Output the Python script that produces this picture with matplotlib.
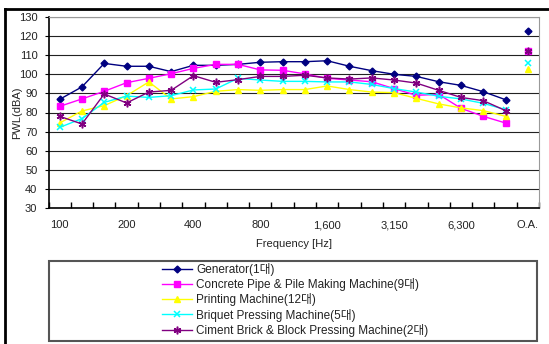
import matplotlib.pyplot as plt
from matplotlib.patches import Rectangle
from matplotlib.lines import Line2D

plt.rcParams['font.family'] = ['Liberation Sans', 'Noto Sans CJK KR']

# 주파수 대역 (1/3 옥타브) + 전체(O.A.)
bands = ['100', '125', '160', '200', '250', '315', '400', '500', '630', '800',
         '1000', '1250', '1600', '2000', '2500', '3150', '4000', '5000',
         '6300', '8000', '10000']
tick_labels = ['100', '200', '400', '800', '1,600', '3,150', '6,300', 'O.A.']

generator = [86.9, 93.4, 105.7, 104.2, 104.2, 101.4, 104.7, 104.7, 105.2, 106.3,
             106.6, 106.6, 107.1, 104.2, 101.9, 100.0, 98.9, 96.1, 94.2, 90.9, 86.7]
generator_oa = 122.7
concrete = [83.2, 87.1, 91.1, 95.6, 97.9, 100.3, 103.1, 105.2, 105.2, 102.3,
            102.1, 100.2, 97.9, 97.0, 96.1, 92.5, 89.0, 89.5, 82.2, 78.0, 74.5]
concrete_oa = 112.0
printing = [74.5, 80.8, 83.6, 88.8, 96.0, 87.1, 88.3, 91.1, 92.0, 91.6,
            92.0, 92.0, 93.9, 92.0, 90.7, 90.4, 87.4, 84.5, 82.4, 81.0, 78.0]
printing_oa = 102.9
briquet = [72.2, 76.8, 85.3, 88.6, 87.9, 88.8, 91.8, 92.3, 97.9, 97.0,
           96.3, 96.3, 96.0, 96.0, 94.7, 92.5, 90.7, 88.5, 87.1, 84.8, 81.5]
briquet_oa = 105.9
ciment = [78.0, 74.0, 89.7, 85.0, 90.7, 91.6, 99.3, 95.8, 97.2, 98.9,
          98.9, 99.5, 98.1, 97.5, 98.1, 97.0, 95.4, 91.6, 87.9, 86.2, 81.0]
ciment_oa = 112.0

names = ['Generator(1대)', 'Concrete Pipe & Pile Making Machine(9대)',
         'Printing Machine(12대)', 'Briquet Pressing Machine(5대)',
         'Ciment Brick & Block Pressing Machine(2대)']

fig = plt.figure(figsize=(5.49, 3.44), dpi=100)
ax = fig.add_axes([48.5/549, 1-208/344, (539-48.5)/549, (208-17)/344])

x = list(range(len(bands)))
x_oa = len(bands)

styles = [
    (generator, generator_oa, '#000080', dict(marker='D', markersize=3.5)),
    (concrete, concrete_oa, '#FF00FF', dict(marker='s', markersize=5)),
    (printing, printing_oa, '#FFFF00', dict(marker='^', markersize=5)),
    (briquet, briquet_oa, '#00FFFF', dict(marker='x', markersize=4.5, markeredgewidth=1.1)),
    (ciment, ciment_oa, '#800080', dict(marker=(6, 2, 0), markersize=5.5, markeredgewidth=1.1)),
]
handles = []
for (vals, oa, col, mk), name in zip(styles, names):
    h, = ax.plot(x, vals, color=col, lw=1, markerfacecolor=col,
                 markeredgecolor=col, label=name, **mk)
    ax.plot([x_oa], [oa], linestyle='none', color=col, markerfacecolor=col,
            markeredgecolor=col, **mk)
    handles.append(h)

ax.set_xlim(-0.5, len(bands) + 0.5)
ax.set_ylim(30, 130)
ax.set_yticks(range(30, 131, 10))
ax.yaxis.grid(True, color='#222222', lw=0.8)
ax.set_axisbelow(True)

ax.set_xticks([0, 3, 6, 9, 12, 15, 18, 21])
ax.set_xticklabels(tick_labels)
ax.set_xticks([i + 0.5 for i in range(-1, len(bands) + 1)], minor=True)
ax.tick_params(axis='x', which='major', length=0, pad=9, labelsize=8, labelcolor='#222222')
ax.tick_params(axis='x', which='minor', direction='in', length=4, width=1, color='black')
ax.tick_params(axis='y', length=3, direction='out', labelsize=8, pad=5, labelcolor='#222222')

for s in ['top', 'right']:
    ax.spines[s].set_color('#999999')
for s in ['left', 'bottom']:
    ax.spines[s].set_color('black')
    ax.spines[s].set_linewidth(1.2)

ax.set_ylabel('PWL(dBA)', fontsize=8, color='#222222')
ax.yaxis.set_label_coords((22.5 - 48.5) / 490.5, 0.5)
ax.set_xlabel('Frequency [Hz]', fontsize=8, labelpad=6, color='#222222')

# 범례 박스
fig.patches.append(Rectangle((49/549, 1-341/344), (537-49)/549, (341-261)/344,
                             transform=fig.transFigure, fill=False,
                             edgecolor='#555555', lw=1.5))
fig.legend(handles=handles, loc='center', bbox_to_anchor=(295/549, 1-300/344),
           frameon=False, fontsize=8.5, handlelength=2.6, labelspacing=0.18,
           handletextpad=0.3, borderpad=0, labelcolor='#222222')

# 바깥 테두리
fig.lines.append(Line2D([4.5/549, 4.5/549], [0, 1-8.5/344], transform=fig.transFigure,
                        color='black', lw=2))
fig.lines.append(Line2D([4.5/549, 1], [1-8.5/344, 1-8.5/344], transform=fig.transFigure,
                        color='black', lw=2))

fig.savefig('out.png', dpi=100)
